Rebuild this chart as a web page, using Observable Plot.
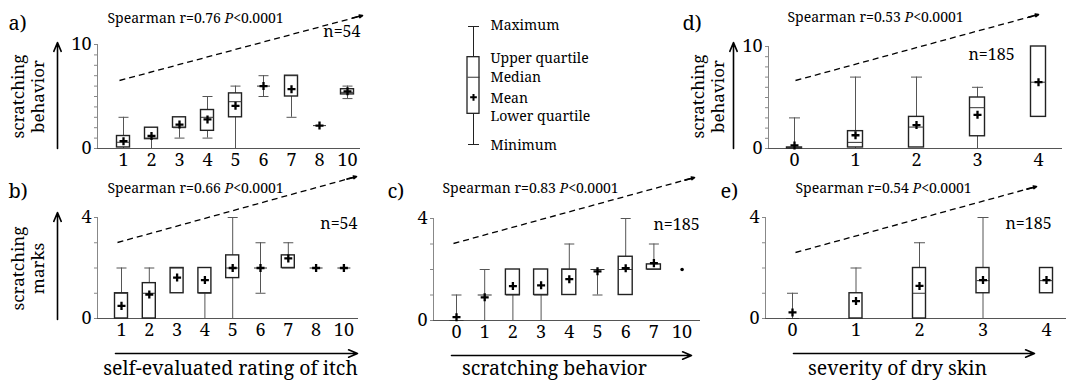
<!DOCTYPE html>
<html><head><meta charset="utf-8">
<script src="https://cdn.jsdelivr.net/npm/d3@7"></script>
<script src="https://cdn.jsdelivr.net/npm/@observablehq/plot@0.6"></script>
<style>
body{margin:0;background:#fff;}
#chart{position:relative;width:1073px;height:384px;overflow:hidden;background:#fff;}
#chart svg{position:absolute;left:0;top:0;overflow:visible;background:none !important;}
#chart svg text{font-family:"Noto Serif","DejaVu Serif",serif !important;}
</style></head><body><div id="chart"></div>
<script>
// ---------------- DATA ----------------
// a) self-evaluated rating of itch vs scratching behavior (n=54)
const catsA   = ["1","2","3","4","5","6","7","8","10"];
const minA    = [0,   0,   1,   1,   0,   5, 3,   2.2, 4.8];
const q1A     = [0.1, 0.9, 2,   1.7, 3,   6, 5,   2.2, 5.2];
const medianA = [0.6, 1.0, 2,   3,   4.5, 6, 7,   2.2, 5.4];
const q3A     = [1.2, 2,   3,   3.7, 5.3, 6, 7,   2.2, 5.7];
const maxA    = [3,   2,   3,   5,   6,   7, 7,   2.2, 6];
const meanA   = [0.7, 1.2, 2.3, 2.8, 4.1, 6, 5.7, 2.2, 5.5];

// b) self-evaluated rating of itch vs scratching marks (n=54)
const catsB   = ["1","2","3","4","5","6","7","8","10"];
const minB    = [0,   0,    1,    0,    0,   1, 2,    2, 2];
const q1B     = [0,   0,    1,    1,    1.6, 2, 2,    2, 2];
const medianB = [1,   1,    2,    1,    2,   2, 2,    2, 2];
const q3B     = [1,   1.4,  2,    2,    2.5, 2, 2.5,  2, 2];
const maxB    = [2,   2,    2,    2,    4,   3, 3,    2, 2];
const meanB   = [0.5, 0.95, 1.62, 1.52, 2,   2, 2.38, 2, 2];

// c) scratching behavior vs scratching marks (n=185)
const catsC   = ["0","1","2","3","4","5","6","7","10"];
const minC    = [0,    0,    0,    0,    1,    1,    1,    2,    2];
const q1C     = [0,    1,    1,    1,    1,    2,    1,    2,    2];
const medianC = [0,    1,    1,    1,    2,    2,    2,    2,    2];
const q3C     = [0,    1,    2,    2,    2,    2,    2.5,  2.2,  2];
const maxC    = [1,    2,    2,    2,    3,    2,    4,    3,    2];
const meanC   = [0.13, 0.91, 1.35, 1.38, 1.62, 1.93, 2.05, 2.25, 2];
const singleC = ["10"];   // shown as a single point

// d) severity of dry skin vs scratching behavior (n=185)
const catsD   = ["0","1","2","3","4"];
const minD    = [0,   0,   0.1, 0,   3.1];
const q1D     = [0,   0.1, 0.1, 1.2, 3.1];
const medianD = [0.1, 0.6, 2.1, 4,   6.5];
const q3D     = [0.1, 1.7, 3.1, 5,   10];
const maxD    = [3,   7,   7,   6,   10];
const meanD   = [0.3, 1.3, 2.3, 3.3, 6.5];

// e) severity of dry skin vs scratching marks (n=185)
const catsE   = ["0","1","2","3","4"];
const minE    = [0,    0,    0,    0,    1];
const q1E     = [0,    0,    0,    1,    1];
const medianE = [0,    0,    1,    1.5,  1.5];
const q3E     = [0,    1,    2,    2,    2];
const maxE    = [1,    2,    3,    4,    2];
const meanE   = [0.24, 0.69, 1.29, 1.52, 1.52];

// statistics text
const panelLetters = ["a)","b)","c)","d)","e)"];
const spearmanR    = [0.76, 0.66, 0.83, 0.53, 0.54];
const sampleN      = [54, 54, 185, 185, 185];
const yTitles      = ["scratching\nbehavior", "scratching\nmarks", null, "scratching\nbehavior", null];
const xTitles      = [null, "self-evaluated rating of itch", "scratching behavior", null, "severity of dry skin"];

// legend
const legendLabels = ["Maximum","Upper quartile","Median","Mean","Lower quartile","Minimum"];
const legendStats  = {max:10, q3:7.4, median:5.7, mean:4, q1:2.6, min:0};

// ---------------- LAYOUT (pixels) ----------------
const FONT = "Noto Serif";
const layout = [
  {ax:97,  rx:360,  c0:123, s:28,   by:148, ty:44,  yMax:10, boxW:13, capW:10,
   letter:[8,29], spear:[107,22], n:[360,36,"end"], ylab:[27,96], vArrow:[57,148,42],
   trend:[119,80,362,15]},
  {ax:97,  rx:358,  c0:121, s:27.8, by:318, ty:217, yMax:4,  boxW:13, capW:10,
   letter:[8,197], spear:[107,192], n:[357,228,"end"], ylab:[27,268], vArrow:[57,319,212],
   trend:[117,242,356,176], hArrow:[115,357,353], xtitle:[230,374]},
  {ax:433, rx:700,  c0:456, s:28.2, by:320, ty:218, yMax:4,  boxW:14, capW:10,
   letter:[387,197], spear:[442,192], n:[653,229,"start"],
   trend:[453,243,694,177], hArrow:[451,691,355], xtitle:[554,374]},
  {ax:768, rx:1062, c0:794, s:61,   by:148, ty:46,  yMax:10, boxW:15, capW:11,
   letter:[682,29], spear:[787,21], n:[968,59,"start"], ylab:[707,96], vArrow:[733,148,42],
   trend:[795,80,1038,14]},
  {ax:765, rx:1066, c0:792, s:63.5, by:318, ty:217, yMax:4,  boxW:13, capW:11,
   letter:[720,197], spear:[795,192], n:[1005,228,"start"],
   trend:[795,252,1036,186], hArrow:[793,1034,353], xtitle:[897,374]}
];
const legendLayout = {lx:473, boxW:12, capW:11, labelX:490, top:26, bottom:144, labelDy:[-1,1,0,1,3,1]};

const panels = [
  {cats:catsA, min:minA, q1:q1A, median:medianA, q3:q3A, max:maxA, mean:meanA, single:[]},
  {cats:catsB, min:minB, q1:q1B, median:medianB, q3:q3B, max:maxB, mean:meanB, single:[]},
  {cats:catsC, min:minC, q1:q1C, median:medianC, q3:q3C, max:maxC, mean:meanC, single:singleC},
  {cats:catsD, min:minD, q1:q1D, median:medianD, q3:q3D, max:maxD, mean:meanD, single:[]},
  {cats:catsE, min:minE, q1:q1E, median:medianE, q3:q3E, max:maxE, mean:meanE, single:[]}
];

const W = 1073, H = 384;
const chart = document.getElementById("chart");
const NS = "http://www.w3.org/2000/svg";

function italicP(svg) {
  svg.querySelectorAll("text").forEach(t => {
    const s = t.textContent;
    const k = s.indexOf(" P<");
    if (k >= 0 && t.children.length === 0) {
      t.textContent = "";
      const a = document.createElementNS(NS, "tspan"); a.textContent = s.slice(0, k + 1);
      const b = document.createElementNS(NS, "tspan"); b.textContent = "P"; b.setAttribute("font-style", "italic");
      const c = document.createElementNS(NS, "tspan"); c.textContent = s.slice(k + 2);
      t.append(a, b, c);
    }
  });
}

function arrowMarks(x1, y1, x2, y2, dashed) {
  const marks = [];
  if (dashed) {
    marks.push(Plot.link([0], {x1: () => x1, y1: () => y1, x2: () => x2, y2: () => y2,
      stroke: "black", strokeWidth: 1.3, strokeDasharray: "6,4"}));
    const f = 0.96;
    marks.push(Plot.arrow([0], {x1: () => x1 + (x2 - x1) * f, y1: () => y1 + (y2 - y1) * f, x2: () => x2, y2: () => y2,
      stroke: "black", strokeWidth: 1.6, headLength: 9, headAngle: 45}));
  } else {
    marks.push(Plot.arrow([0], {x1: () => x1, y1: () => y1, x2: () => x2, y2: () => y2,
      stroke: "black", strokeWidth: 1.6, headLength: 9, headAngle: 45}));
  }
  return marks;
}

panels.forEach((p, k) => {
  const L = layout[k];
  const X = px => (px - L.c0) / L.s;
  const Y = py => (L.by - py) / (L.by - L.ty) * L.yMax;
  const xlo = X(L.ax), xhi = X(L.rx);
  const bw = L.boxW / 2 / L.s, cw = L.capW / 2 / L.s;
  const rows = p.cats.map((c, i) => ({i, cat: c, min: p.min[i], q1: p.q1[i], median: p.median[i],
    q3: p.q3[i], max: p.max[i], mean: p.mean[i], single: p.single.includes(c)}));
  const box = rows.filter(d => !d.single);
  const pts = rows.filter(d => d.single);

  const marks = [
    Plot.ruleY([0], {stroke: "#555", strokeWidth: 1.2}),
    Plot.ruleX([xlo], {y1: 0, y2: L.yMax, stroke: "#888"}),
    Plot.axisY({ticks: d3.range(0, L.yMax + 1), tickSize: 3, tickPadding: 3, stroke: "#888",
      tickFormat: d => (d === 0 || d === L.yMax) ? String(d) : "", fontSize: 18, label: null}),
    Plot.axisX({ticks: p.cats.map((c, i) => i), tickSize: 0, tickPadding: 5,
      tickFormat: i => p.cats[i], fontSize: 18, label: null}),
    Plot.ruleX(box.filter(d => d.max > d.min), {x: "i", y1: "min", y2: "max", stroke: "#555", strokeWidth: 1}),
    Plot.link(box.filter(d => d.max > d.q3), {x1: d => d.i - cw, x2: d => d.i + cw, y1: "max", y2: "max", stroke: "#555"}),
    Plot.link(box.filter(d => d.min < d.q1), {x1: d => d.i - cw, x2: d => d.i + cw, y1: "min", y2: "min", stroke: "#555"}),
    Plot.rect(box.filter(d => d.q3 > d.q1), {x1: d => d.i - bw, x2: d => d.i + bw, y1: "q1", y2: "q3",
      fill: "white", stroke: "#222", strokeWidth: 1.4}),
    Plot.link(box, {x1: d => d.i - bw, x2: d => d.i + bw, y1: "median", y2: "median", stroke: "#333", strokeWidth: 1}),
    Plot.dot(box, {x: "i", y: "mean", symbol: "plus", r: 2.7, stroke: "black", strokeWidth: 2.3}),
    Plot.dot(pts, {x: "i", y: "mean", r: 1.8, fill: "black"}),
    // annotations
    Plot.text([panelLetters[k]], {x: () => X(L.letter[0]), y: () => Y(L.letter[1]), textAnchor: "start",
      lineAnchor: "bottom", fontSize: 20}),
    Plot.text([`Spearman r=${spearmanR[k].toFixed(2)} P<0.0001`], {x: () => X(L.spear[0]), y: () => Y(L.spear[1]),
      textAnchor: "start", lineAnchor: "bottom", fontSize: 14}),
    Plot.text([`n=${sampleN[k]}`], {x: () => X(L.n[0]), y: () => Y(L.n[1]), textAnchor: L.n[2],
      lineAnchor: "bottom", fontSize: 16}),
    ...arrowMarks(X(L.trend[0]), Y(L.trend[1]), X(L.trend[2]), Y(L.trend[3]), true)
  ];
  if (yTitles[k]) {
    marks.push(Plot.text([yTitles[k]], {x: () => X(L.ylab[0]), y: () => Y(L.ylab[1]), rotate: -90,
      textAnchor: "middle", lineAnchor: "middle", lineHeight: 1.2, fontSize: 17}));
    marks.push(...arrowMarks(X(L.vArrow[0]), Y(L.vArrow[1]), X(L.vArrow[0]), Y(L.vArrow[2]), false));
  }
  if (xTitles[k]) {
    marks.push(Plot.text([xTitles[k]], {x: () => X(L.xtitle[0]), y: () => Y(L.xtitle[1]),
      textAnchor: "middle", lineAnchor: "bottom", fontSize: 19.5}));
    marks.push(...arrowMarks(X(L.hArrow[0]), Y(L.hArrow[2]), X(L.hArrow[1]), Y(L.hArrow[2]), false));
  }

  const svg = Plot.plot({
    width: W, height: H,
    marginLeft: L.ax, marginRight: W - L.rx, marginTop: L.ty, marginBottom: H - L.by,
    x: {type: "linear", domain: [xlo, xhi], label: null},
    y: {type: "linear", domain: [0, L.yMax], label: null},
    style: {background: "none", overflow: "visible", fontFamily: FONT, color: "black"},
    marks
  });
  italicP(svg);
  chart.appendChild(svg);
});

// legend
{
  const {lx, boxW, capW, labelX, top, bottom, labelDy} = legendLayout;
  const st = [legendStats];
  const labelVals = [legendStats.max, legendStats.q3, legendStats.median, legendStats.mean, legendStats.q1, legendStats.min];
  const pxPerUnit = (bottom - top) / 10;
  const svg = Plot.plot({
    width: W, height: H, marginLeft: 0, marginRight: 0, marginTop: top, marginBottom: H - bottom,
    x: {type: "linear", domain: [0, W], label: null, axis: null},
    y: {type: "linear", domain: [0, 10], label: null, axis: null},
    style: {background: "none", overflow: "visible", fontFamily: FONT, color: "black"},
    marks: [
      Plot.ruleX(st, {x: () => lx, y1: "min", y2: "max", stroke: "#222"}),
      Plot.link(st, {x1: () => lx - capW / 2, x2: () => lx + capW / 2, y1: "max", y2: "max", stroke: "#222"}),
      Plot.link(st, {x1: () => lx - capW / 2, x2: () => lx + capW / 2, y1: "min", y2: "min", stroke: "#222"}),
      Plot.rect(st, {x1: () => lx - boxW / 2, x2: () => lx + boxW / 2, y1: "q1", y2: "q3", fill: "white", stroke: "#222", strokeWidth: 1.3}),
      Plot.link(st, {x1: () => lx - boxW / 2, x2: () => lx + boxW / 2, y1: "median", y2: "median", stroke: "#333"}),
      Plot.dot(st, {x: () => lx, y: "mean", symbol: "plus", r: 2.3, stroke: "black", strokeWidth: 2}),
      Plot.text(legendLabels, {x: () => labelX, y: (d, i) => labelVals[i] - labelDy[i] / pxPerUnit,
        textAnchor: "start", lineAnchor: "middle", fontSize: 14})
    ]
  });
  chart.appendChild(svg);
}
</script></body></html>
